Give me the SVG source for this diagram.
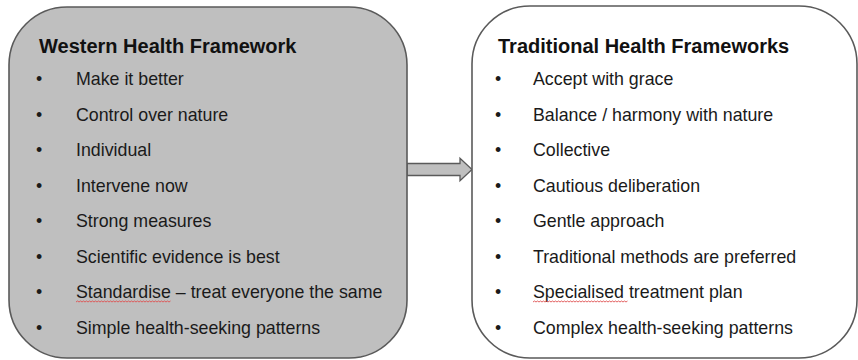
<svg xmlns="http://www.w3.org/2000/svg" width="858" height="360" viewBox="0 0 858 360">
  <style>
    .box { stroke: #5a5a5a; stroke-width: 1.6; }
    .title { font-family: "Liberation Sans", Arial, sans-serif; font-weight: bold; font-size: 20px; fill: #111; }
    .item { font-family: "Liberation Sans", Arial, sans-serif; font-size: 17.8px; fill: #1a1a1a; }
    .squiggle { fill: none; stroke: #e05050; stroke-width: 0.9; }
  </style>
  <defs>
    <!-- spell-check style wavy underline, 93px long -->
    <path id="wave" d="M0,0 l1.5,-1 l1.5,1 l1.5,-1 l1.5,1 l1.5,-1 l1.5,1 l1.5,-1 l1.5,1 l1.5,-1 l1.5,1 l1.5,-1 l1.5,1 l1.5,-1 l1.5,1 l1.5,-1 l1.5,1 l1.5,-1 l1.5,1 l1.5,-1 l1.5,1 l1.5,-1 l1.5,1 l1.5,-1 l1.5,1 l1.5,-1 l1.5,1 l1.5,-1 l1.5,1 l1.5,-1 l1.5,1 l1.5,-1 l1.5,1 l1.5,-1 l1.5,1 l1.5,-1 l1.5,1 l1.5,-1 l1.5,1 l1.5,-1 l1.5,1 l1.5,-1 l1.5,1 l1.5,-1 l1.5,1 l1.5,-1 l1.5,1 l1.5,-1 l1.5,1 l1.5,-1 l1.5,1 l1.5,-1 l1.5,1 l1.5,-1 l1.5,1 l1.5,-1 l1.5,1 l1.5,-1 l1.5,1 l1.5,-1 l1.5,1 l1.5,-1 l1.5,1 l1.5,-1"/>
  </defs>
  <rect width="858" height="360" fill="#ffffff"/>

  <g id="connectors">
    <path d="M407,163.5 H460 V158.3 L472,169.5 L460,180.7 V175.5 H407 Z" fill="#bfbfbf" stroke="#5a5a5a" stroke-width="1.3"/>
  </g>

  <g id="western">
    <rect class="box" x="9" y="7" width="398" height="351" rx="58" ry="58" fill="#bfbfbf"/>
    <text class="title" x="39" y="52.5">Western Health Framework</text>
    <g class="item">
      <text x="36" y="85">•</text><text x="76" y="85">Make it better</text>
      <text x="36" y="120.5">•</text><text x="76" y="120.5">Control over nature</text>
      <text x="36" y="156">•</text><text x="76" y="156">Individual</text>
      <text x="36" y="191.5">•</text><text x="76" y="191.5">Intervene now</text>
      <text x="36" y="227">•</text><text x="76" y="227">Strong measures</text>
      <text x="36" y="262.5">•</text><text x="76" y="262.5">Scientific evidence is best</text>
      <text x="36" y="298">•</text><text x="76" y="298">Standardise – treat everyone the same</text>
      <text x="36" y="333.5">•</text><text x="76" y="333.5">Simple health-seeking patterns</text>
    </g>
    <use href="#wave" class="squiggle" x="76" y="302"/>
  </g>

  <g id="traditional">
    <rect class="box" x="472" y="6" width="385" height="352" rx="58" ry="58" fill="#ffffff"/>
    <text class="title" x="498" y="52.5">Traditional Health Frameworks</text>
    <g class="item">
      <text x="495" y="85">•</text><text x="533" y="85">Accept with grace</text>
      <text x="495" y="120.5">•</text><text x="533" y="120.5">Balance / harmony with nature</text>
      <text x="495" y="156">•</text><text x="533" y="156">Collective</text>
      <text x="495" y="191.5">•</text><text x="533" y="191.5">Cautious deliberation</text>
      <text x="495" y="227">•</text><text x="533" y="227">Gentle approach</text>
      <text x="495" y="262.5">•</text><text x="533" y="262.5">Traditional methods are preferred</text>
      <text x="495" y="298">•</text><text x="533" y="298">Specialised treatment plan</text>
      <text x="495" y="333.5">•</text><text x="533" y="333.5">Complex health-seeking patterns</text>
    </g>
    <use href="#wave" class="squiggle" x="533" y="302"/>
  </g>
</svg>
